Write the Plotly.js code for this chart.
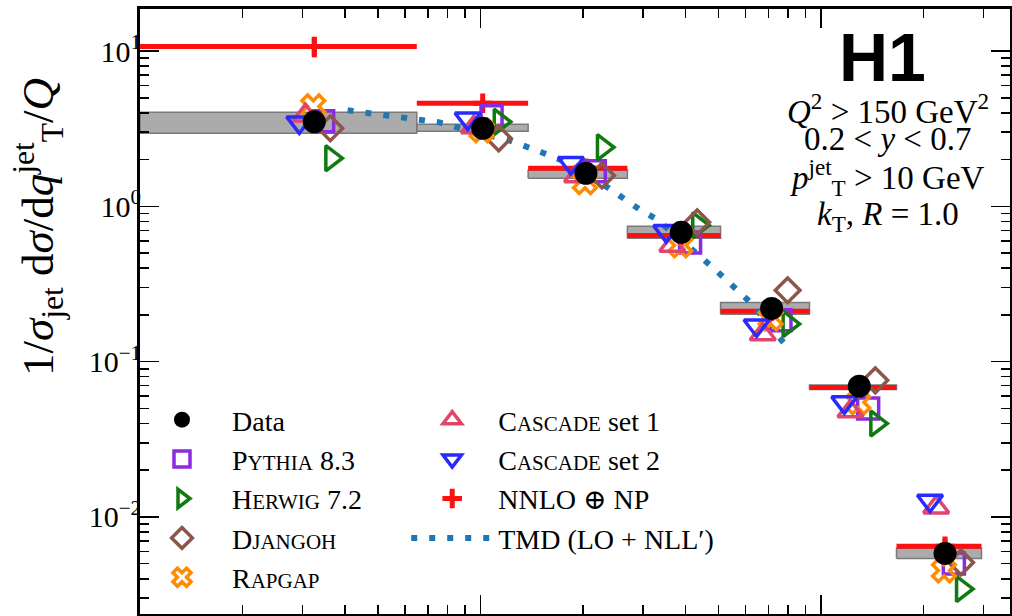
<!DOCTYPE html>
<html><head><meta charset="utf-8">
<script src="https://cdn.plot.ly/plotly-3.0.1.min.js"></script>
<style>html,body{margin:0;padding:0;background:#fff}</style>
</head><body>
<div id="chart" style="width:1012px;height:616px"></div>
<script>
// q_T^jet / Q bins
const binEdges   = [0, 0.065, 0.138, 0.27, 0.507, 0.925, 1.666, 2.96];
const binCenters = [0.0325, 0.1015, 0.204, 0.3885, 0.716, 1.2955, 2.313];

// measured cross section and its uncertainty band
const dataValues  = [3.50, 3.18, 1.63, 0.680, 0.220, 0.0695, 0.00583];
const dataBandLow = [2.95, 3.04, 1.515, 0.622, 0.202, 0.0662, 0.00541];
const dataBandHigh= [4.03, 3.37, 1.705, 0.743, 0.240, 0.0708, 0.00628];

// generator predictions
const pythia   = [3.53, 3.80, 1.68, 0.586, 0.185, 0.050, 0.00502];
const herwig   = [2.04, 3.50, 2.40, 0.755, 0.175, 0.040, 0.00344];
const djangoh  = [3.18, 2.74, 1.58, 0.789, 0.288, 0.0758, 0.0051];
const rapgap   = [4.40, 3.09, 1.43, 0.561, 0.190, 0.0547, 0.00453];
const cascade1 = [3.85, 3.23, 1.56, 0.558, 0.150, 0.0479, 0.01153];
const cascade2 = [3.47, 3.67, 1.90, 0.693, 0.171, 0.0547, 0.01273];

// NNLO + NP
const nnlo        = [10.7, 4.61, 1.757, 0.650, 0.211, 0.0682, 0.00647];
const nnloErrUp   = [1.55, 0.28, 0.05, 0.02, 0.006, 0.002, 0.00078];
const nnloErrDown = [1.60, 0.28, 0.05, 0.02, 0.006, 0.002, 0.00078];

// TMD (LO + NLL') curve
const tmdX = [0.0407, 0.0590, 0.0758, 0.0960, 0.1217, 0.1542, 0.173, 0.236, 0.293, 0.329, 0.434, 0.477, 0.521, 0.625, 0.792];
const tmdY = [4.15, 3.74, 3.47, 3.00, 2.66, 2.19, 1.978, 1.325, 0.956, 0.825, 0.498, 0.411, 0.344, 0.237, 0.1255];

// axis ticks
const xTickVals = [0.01, 0.1, 1];
const yTickVals = [10, 1, 0.1, 0.01];
const yTickText = ['10<sup>1</sup>', '10<sup>0</sup>', '10<sup>−1</sup>', '10<sup>−2</sup>'];

// ---------- styles ----------
const SERIF = 'Liberation Serif, DejaVu Serif, serif';
const xRange = [-2, 0.555];
const yRange = [-2.6246, 1.2704];
const xMin = Math.pow(10, xRange[0]);

function shifted(dex) { return binCenters.map(c => c * Math.pow(10, dex)); }

// bin segments for NNLO
const segX = [], segY = [];
nnlo.forEach((v, i) => {
  segX.push(Math.max(binEdges[i], xMin), binEdges[i + 1], null);
  segY.push(v, v, null);
});
// uncertainty boxes
const boxX = [], boxY = [];
dataValues.forEach((v, i) => {
  const lo = Math.max(binEdges[i], xMin), hi = binEdges[i + 1];
  boxX.push(lo, hi, hi, lo, lo, null);
  boxY.push(dataBandLow[i], dataBandLow[i], dataBandHigh[i], dataBandHigh[i], dataBandLow[i], null);
});

const sc = s => `<span style="font-size:21px">${s}</span>`;
const mcLine = 3.5;
function mc(name, vals, dex, symbol, color, size, legend, rank, open) {
  return {
    type: 'scatter', mode: 'markers', name: name, x: shifted(dex), y: vals,
    legend: legend, legendrank: rank,
    marker: { symbol: symbol, size: size, color: open ? color : 'rgba(0,0,0,0)', line: { color: color, width: mcLine } }
  };
}

const traces = [
  { type: 'scatter', mode: 'lines', x: boxX, y: boxY, fill: 'toself', fillcolor: '#ababab',
    line: { color: '#7a7a7a', width: 1.5 }, showlegend: false, hoverinfo: 'skip' },
  { type: 'scatter', mode: 'lines', x: segX, y: segY, line: { color: '#ff1010', width: 5 },
    showlegend: false, hoverinfo: 'skip' },
  { type: 'scatter', mode: 'markers', name: 'NNLO ⊕ NP', x: binCenters, y: nnlo, legend: 'legend2', legendrank: 3,
    marker: { symbol: 'cross-thin-open', size: 14, color: '#ff1010', line: { color: '#ff1010', width: 5 } },
    error_y: { type: 'data', symmetric: false, array: nnloErrUp, arrayminus: nnloErrDown, color: '#ff1010', thickness: 5, width: 0 } },
  { type: 'scatter', mode: 'lines', name: 'TMD (LO + NLL′)', x: tmdX, y: tmdY, legend: 'legend2', legendrank: 4,
    line: { color: '#1f77b4', width: 6, dash: '6px,12px' } },
  mc('P' + sc('YTHIA') + ' 8.3', pythia, 0.026, 'square', '#8a2be2', 21, 'legend', 2),
  mc('H' + sc('ERWIG') + ' 7.2', herwig, 0.050, 'triangle-right', '#107a10', 22, 'legend', 3),
  mc('D' + sc('JANGOH'), djangoh, 0.047, 'diamond', '#8c564b', 19, 'legend', 4),
  mc('R' + sc('APGAP'), rapgap, -0.003, 'x-open', '#ff8c00', 20, 'legend', 5, true),
  mc('C' + sc('ASCADE') + ' set 1', cascade1, -0.026, 'triangle-up', '#e0456b', 22, 'legend2', 1),
  mc('C' + sc('ASCADE') + ' set 2', cascade2, -0.044, 'triangle-down', '#2a2aff', 22, 'legend2', 2),
  { type: 'scatter', mode: 'markers', name: 'Data', x: binCenters, y: dataValues, legend: 'legend', legendrank: 1,
    marker: { symbol: 'circle', size: 23, color: '#000' } }
];

const axisCommon = {
  type: 'log', showline: true, linewidth: 3, linecolor: '#000', mirror: 'allticks',
  ticks: 'inside', ticklen: 19, tickwidth: 1.5, tickcolor: '#000',
  showgrid: false, zeroline: false,
  minor: { ticks: 'inside', ticklen: 9, tickwidth: 1.5, tickcolor: '#000', dtick: 'D1', showgrid: false }
};
const legendCommon = {
  xanchor: 'left', yanchor: 'top', bgcolor: 'rgba(0,0,0,0)', borderwidth: 0,
  font: { family: SERIF, size: 28, color: '#000' }, traceorder: 'normal'
};

const mathFont = { family: SERIF, size: 33, color: '#000' };
const layout = {
  width: 1012, height: 616,
  margin: { l: 140, r: 2, t: 9, b: 2 },
  paper_bgcolor: '#fff', plot_bgcolor: '#fff',
  font: { family: SERIF, color: '#000' },
  xaxis: Object.assign({}, axisCommon, { range: xRange, tickmode: 'array', tickvals: xTickVals, showticklabels: false }),
  yaxis: Object.assign({}, axisCommon, { range: yRange, tickmode: 'array', tickvals: yTickVals, ticktext: yTickText,
    ticklabelstandoff: -10, tickfont: { family: SERIF, size: 30, color: '#000' } }),
  legend: Object.assign({}, legendCommon, { x: -0.0092, y: 0.362, itemwidth: 90 }),
  legend2: Object.assign({}, legendCommon, { x: 0.306, y: 0.362, itemwidth: 82 }),
  showlegend: true,
  annotations: [
    { text: '1/<i>σ</i><sub>jet</sub> d<i>σ</i>/d<i>q</i><sup>jet</sup><sub>T</sub>/<i>Q</i>', xref: 'paper', yref: 'paper',
      x: -0.117, y: 0.64, xanchor: 'center', yanchor: 'middle', textangle: -90, showarrow: false,
      font: { family: SERIF, size: 45, color: '#000' } },
    { text: '<b>H1</b>', xref: 'paper', yref: 'paper', x: 0.853, y: 0.920, xanchor: 'center', yanchor: 'middle',
      showarrow: false, font: { family: 'Liberation Sans, Arial, sans-serif', size: 68, color: '#000' } },
    { text: '<i>Q</i><sup>2</sup> &gt; 150 GeV<sup>2</sup>', xref: 'paper', yref: 'paper', x: 0.8596, y: 0.835,
      xanchor: 'center', yanchor: 'middle', showarrow: false, font: mathFont },
    { text: '0.2 &lt; <i>y</i> &lt; 0.7', xref: 'paper', yref: 'paper', x: 0.8596, y: 0.785,
      xanchor: 'center', yanchor: 'middle', showarrow: false, font: mathFont },
    { text: '<i>p</i><sup>jet</sup><sub>T</sub> &gt; 10 GeV', xref: 'paper', yref: 'paper', x: 0.8596, y: 0.7207,
      xanchor: 'center', yanchor: 'middle', showarrow: false, font: mathFont },
    { text: '<i>k</i><sub>T</sub>, <i>R</i> = 1.0', xref: 'paper', yref: 'paper', x: 0.8596, y: 0.6575,
      xanchor: 'center', yanchor: 'middle', showarrow: false, font: mathFont }
  ]
};

Plotly.newPlot('chart', traces, layout, { displayModeBar: false, staticPlot: true });
</script>
</body></html>
